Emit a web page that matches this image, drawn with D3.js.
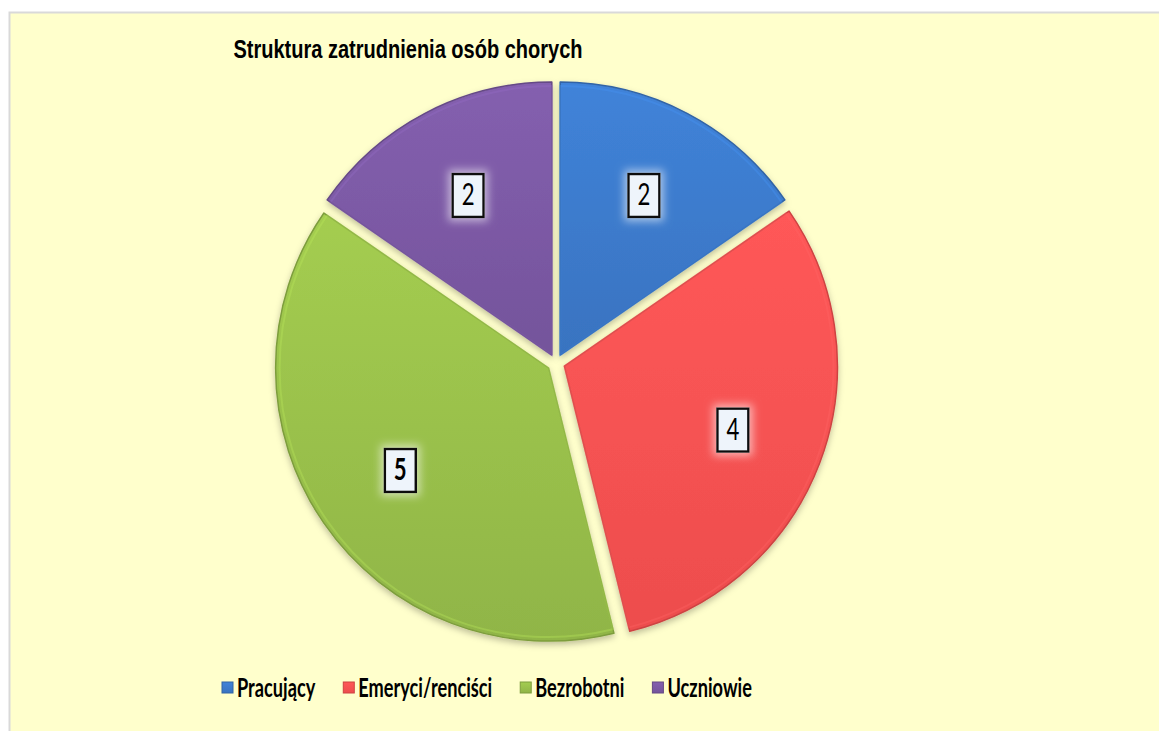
<!DOCTYPE html>
<html>
<head>
<meta charset="utf-8">
<script src="https://cdn.jsdelivr.net/npm/d3@7"></script>
<style>
  body { margin: 0; background: #fff; }
  svg { display: block; }
</style>
</head>
<body>
<svg id="pieChart" width="1159" height="731"></svg>
<script>
const categories = ["Pracujący", "Emeryci/renciści", "Bezrobotni", "Uczniowie"];
const values = [2, 4, 5, 2];
const colors = ["#3d7cce", "#ff5353", "#9bc24c", "#7d5aa6"];
const chartTitle = "Struktura zatrudnienia osób chorych";

const svg = d3.select("#pieChart");
const cx = 556, cy = 363, radius = 273, explode = 9;

const defs = svg.append("defs");

// frame + background
svg.append("rect")
  .attr("x", 9.5).attr("y", 12.5)
  .attr("width", 1200).attr("height", 800)
  .attr("fill", "#ffffcc")
  .attr("stroke", "#d9d9d9")
  .attr("stroke-width", 2);

// shadow for slices
const sh = defs.append("filter").attr("id", "shadow")
  .attr("x", "-10%").attr("y", "-10%").attr("width", "120%").attr("height", "120%");
sh.append("feDropShadow").attr("dx", 0).attr("dy", 3)
  .attr("stdDeviation", 3).attr("flood-color", "#000").attr("flood-opacity", 0.25);

// glow for label boxes
const gl = defs.append("filter").attr("id", "glow")
  .attr("x", "-60%").attr("y", "-60%").attr("width", "220%").attr("height", "220%");
gl.append("feMorphology").attr("in", "SourceAlpha").attr("operator", "dilate").attr("radius", 3).attr("result", "d");
gl.append("feGaussianBlur").attr("in", "d").attr("stdDeviation", 4).attr("result", "b");
gl.append("feFlood").attr("flood-color", "#ffffff").attr("flood-opacity", 0.55);
gl.append("feComposite").attr("in2", "b").attr("operator", "in").attr("result", "g");
const gm = gl.append("feMerge");
gm.append("feMergeNode").attr("in", "g");
gm.append("feMergeNode").attr("in", "SourceGraphic");

// gradients per colour
colors.forEach((c, i) => {
  const g = defs.append("linearGradient").attr("id", "grad" + i)
    .attr("x1", 0).attr("y1", 0).attr("x2", 0).attr("y2", 1);
  g.append("stop").attr("offset", "0%").attr("stop-color", d3.color(c).brighter(0.15));
  g.append("stop").attr("offset", "100%").attr("stop-color", d3.color(c).darker(0.2));
});

// title (text in the original is tall and narrow)
svg.append("text")
  .attr("transform", "translate(408,58) scale(0.77,1)")
  .attr("text-anchor", "middle")
  .attr("font-family", "Liberation Sans, Arial, sans-serif")
  .attr("font-weight", "bold")
  .attr("font-size", 26)
  .attr("fill", "#000")
  .text(chartTitle);

const data = categories.map((c, i) => ({name: c, value: values[i], idx: i}));
const pie = d3.pie().value(d => d.value).sort(null);
const arc = d3.arc().innerRadius(0).outerRadius(radius);
const labelArc = d3.arc().innerRadius(radius * 0.66).outerRadius(radius * 0.66);
const arcs = pie(data);
const maxVal = d3.max(values);

const pieG = svg.append("g").attr("transform", `translate(${cx},${cy})`);

const slice = pieG.selectAll(".slice")
  .data(arcs)
  .join("g")
  .attr("class", "slice")
  .attr("transform", d => {
    const mid = (d.startAngle + d.endAngle) / 2;
    return `translate(${Math.sin(mid) * explode},${-Math.cos(mid) * explode})`;
  });

slice.append("path")
  .attr("d", arc)
  .attr("fill", d => `url(#grad${d.data.idx})`)
  .attr("stroke", d => d3.color(colors[d.data.idx]).darker(0.6))
  .attr("stroke-width", 1.5)
  .attr("stroke-linejoin", "round")
  .attr("filter", "url(#shadow)");

// inner highlight for a bevel look
slice.append("path")
  .attr("d", d3.arc().innerRadius(0).outerRadius(radius - 4))
  .attr("fill", "none")
  .attr("stroke", d => d3.color(colors[d.data.idx]).brighter(0.5))
  .attr("stroke-opacity", 0.35)
  .attr("stroke-width", 2);

// data labels
const lab = slice.append("g")
  .attr("transform", d => {
    const [x, y] = labelArc.centroid(d);
    return `translate(${x},${y})`;
  });

lab.append("rect")
  .attr("x", -15.5).attr("y", -21.5)
  .attr("width", 31).attr("height", 43)
  .attr("fill", "#eef4fb")
  .attr("stroke", "#111")
  .attr("stroke-width", 2.5)
  .attr("filter", "url(#glow)");

lab.append("text")
  .attr("transform", "translate(0,10) scale(0.74,1)")
  .attr("text-anchor", "middle")
  .attr("font-family", "Lato, sans-serif")
  .attr("font-size", 30)
  .attr("font-weight", d => d.data.value === maxVal ? "bold" : "normal")
  .attr("fill", "#000")
  .text(d => d.data.value);

// legend
const legend = svg.append("g").attr("transform", "translate(222,688)");
const sx = 0.7;
let lx = 0;
data.forEach(d => {
  const item = legend.append("g").attr("transform", `translate(${lx},0)`);
  item.append("rect")
    .attr("x", 0).attr("y", -6)
    .attr("width", 11).attr("height", 11)
    .attr("fill", `url(#grad${d.idx})`)
    .attr("stroke", d3.color(colors[d.idx]).darker(0.6))
    .attr("stroke-width", 1);
  const t = item.append("text")
    .attr("transform", `translate(15,9) scale(${sx},1)`)
    .attr("font-family", "Lato, sans-serif")
    .attr("font-weight", "bold")
    .attr("font-size", 26)
    .attr("fill", "#000")
    .text(d.name);
  const w = t.node().getComputedTextLength() * sx;
  lx += 15 + w + 28;
});
</script>
</body>
</html>
